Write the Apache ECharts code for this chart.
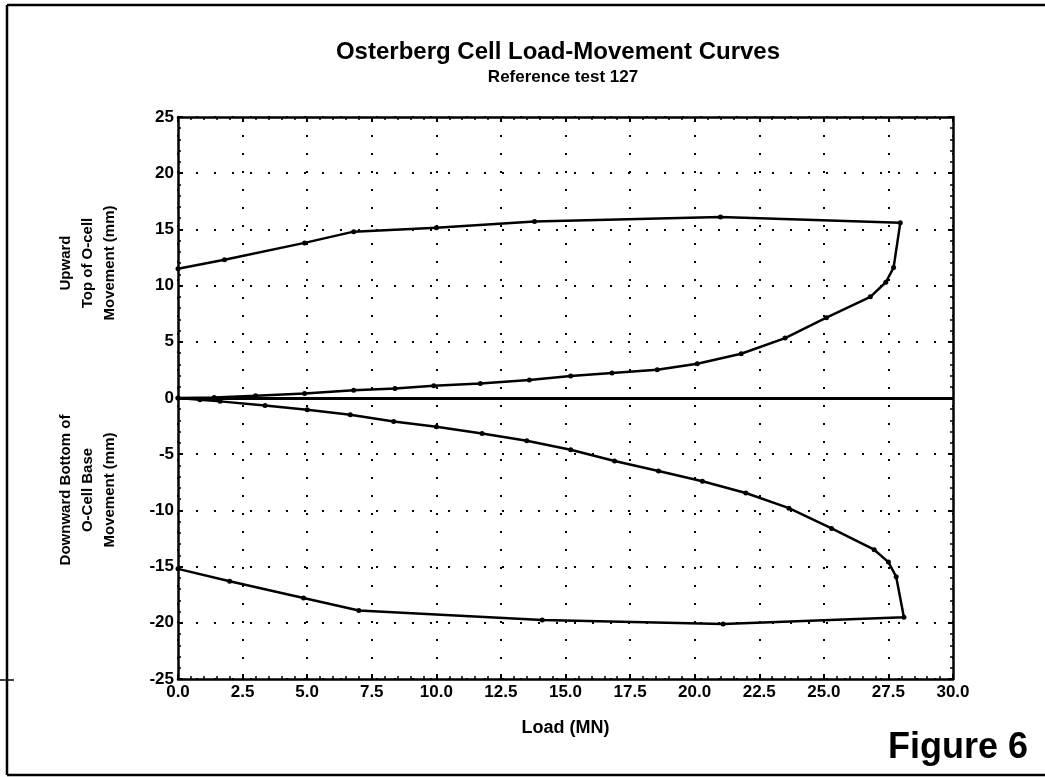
<!DOCTYPE html>
<html lang="en">
<head>
	<meta charset="UTF-8">
	<title>Osterberg Cell Load-Movement Curves</title>
	<script src="https://cdn.jsdelivr.net/npm/echarts@6/dist/echarts.min.js"></script>
	<style>
		html, body { margin: 0; padding: 0; background: #fff; }
		#main { width: 1045px; height: 777px; }
	</style>
</head>
<body>
	<div id="main"></div>
	<script type="text/javascript">
		// x = Load (MN), y = movement (mm)
		var upwardLoad = [0, 1.4, 3.0, 4.9, 6.8, 8.4, 9.9, 11.7, 13.6, 15.2, 16.8, 18.55, 20.1, 21.8, 23.5, 25.1, 26.8, 27.4, 27.7, 27.96,
			21.0, 13.8, 10.0, 6.8, 4.9, 1.8, 0];
		var upwardMove = [0, 0.05, 0.2, 0.4, 0.7, 0.85, 1.08, 1.3, 1.6, 1.95, 2.23, 2.52, 3.05, 3.94, 5.33, 7.15, 9.0, 10.3, 11.6, 15.6,
			16.1, 15.7, 15.15, 14.8, 13.8, 12.3, 11.5];

		var downwardLoad = [0, 0.85, 1.63, 3.37, 5.0, 6.67, 8.35, 10.0, 11.77, 13.5, 15.2, 16.9, 18.6, 20.3, 21.98, 23.65, 25.3, 26.95, 27.5, 27.8, 28.1,
			21.1, 14.1, 7.0, 4.86, 2.0, 0];
		var downwardMove = [0, -0.15, -0.3, -0.66, -1.05, -1.5, -2.1, -2.55, -3.15, -3.8, -4.6, -5.6, -6.5, -7.4, -8.45, -9.8, -11.6, -13.5, -14.6, -15.9, -19.5,
			-20.1, -19.75, -18.9, -17.8, -16.3, -15.2];

		var upLabel = ['Upward', 'Top of O-cell', 'Movement (mm)'];
		var downLabel = ['Downward Bottom of', 'O-Cell Base', 'Movement (mm)'];

		function pairs(xs, ys) {
			var out = [];
			for (var i = 0; i < xs.length; i++) out.push([xs[i], ys[i]]);
			return out;
		}

		var myChart = echarts.init(document.getElementById('main'));
		var FONT = '"Liberation Sans", Arial, sans-serif';

		var dotted = { show: true, lineStyle: { color: '#000', width: 2, type: [2, 16] } };
		var boxLine = { show: true, onZero: false, lineStyle: { color: '#000', width: 2.5 } };

		var option = {
			animation: false,
			backgroundColor: '#fff',
			grid: { left: 178, right: 92, top: 117, bottom: 98 },
			xAxis: [{
				type: 'value', min: 0, max: 30, interval: 2.5,
				position: 'bottom',
				axisLine: boxLine,
				axisTick: { show: true, inside: true, length: 5, lineStyle: { color: '#000', width: 2 } },
				minorTick: { show: true, splitNumber: 5, length: 3, lineStyle: { color: '#000', width: 1.5 } },
				axisLabel: {
					color: '#000', fontFamily: FONT, fontWeight: 'bold', fontSize: 17, margin: 5,
					formatter: function (v) { return v.toFixed(1); }
				},
				splitLine: dotted,
				name: 'Load (MN)', nameLocation: 'middle', nameGap: 40,
				nameTextStyle: { color: '#000', fontFamily: FONT, fontWeight: 'bold', fontSize: 18 }
			}, {
				type: 'value', min: 0, max: 30, interval: 2.5,
				position: 'top',
				axisLine: boxLine,
				axisTick: { show: true, inside: true, length: 5, lineStyle: { color: '#000', width: 2 } },
				minorTick: { show: true, splitNumber: 5, length: 3, lineStyle: { color: '#000', width: 1.5 } },
				axisLabel: { show: false },
				splitLine: { show: false }
			}],
			yAxis: [{
				type: 'value', min: -25, max: 25, interval: 5,
				position: 'left',
				axisLine: boxLine,
				axisTick: { show: true, inside: true, length: 5, lineStyle: { color: '#000', width: 2 } },
				minorTick: { show: true, splitNumber: 5, length: 3, lineStyle: { color: '#000', width: 1.5 } },
				axisLabel: { color: '#000', fontFamily: FONT, fontWeight: 'bold', fontSize: 17, margin: 4 },
				splitLine: dotted
			}, {
				type: 'value', min: -25, max: 25, interval: 5,
				position: 'right',
				axisLine: boxLine,
				axisTick: { show: true, inside: true, length: 5, lineStyle: { color: '#000', width: 2 } },
				minorTick: { show: true, splitNumber: 5, length: 3, lineStyle: { color: '#000', width: 1.5 } },
				axisLabel: { show: false },
				splitLine: { show: false }
			}],
			series: [{
				name: 'Upward',
				type: 'line',
				data: pairs(upwardLoad, upwardMove),
				symbol: 'circle', symbolSize: 5,
				itemStyle: { color: '#000' },
				lineStyle: { color: '#000', width: 2.5 },
				markLine: {
					silent: true, symbol: 'none', label: { show: false },
					lineStyle: { color: '#000', width: 3, type: 'solid' },
					data: [{ yAxis: 0 }]
				}
			}, {
				name: 'Downward',
				type: 'line',
				data: pairs(downwardLoad, downwardMove),
				symbol: 'circle', symbolSize: 5,
				itemStyle: { color: '#000' },
				lineStyle: { color: '#000', width: 2.5 }
			}],
			graphic: [
				// page frame
				{ type: 'line', shape: { x1: 7, y1: 5, x2: 1045, y2: 5 }, style: { stroke: '#000', lineWidth: 2.5 } },
				{ type: 'line', shape: { x1: 7, y1: 5, x2: 7, y2: 775 }, style: { stroke: '#000', lineWidth: 2.5 } },
				{ type: 'line', shape: { x1: 7, y1: 775, x2: 1045, y2: 775 }, style: { stroke: '#000', lineWidth: 2.5 } },
				{ type: 'line', shape: { x1: 0, y1: 680, x2: 14, y2: 680 }, style: { stroke: '#000', lineWidth: 1.5 } },
				{
					type: 'text', x: 558, y: 52,
					style: { text: 'Osterberg Cell Load-Movement Curves', fill: '#000', font: 'bold 24px ' + FONT, textAlign: 'center', textVerticalAlign: 'middle' }
				},
				{
					type: 'text', x: 563, y: 77,
					style: { text: 'Reference test 127', fill: '#000', font: 'bold 17px ' + FONT, textAlign: 'center', textVerticalAlign: 'middle' }
				},
				{
					type: 'text', x: 88, y: 263, rotation: Math.PI / 2,
					style: { text: upLabel.join('\n'), fill: '#000', font: 'bold 15px ' + FONT, lineHeight: 22, textAlign: 'center', textVerticalAlign: 'middle' }
				},
				{
					type: 'text', x: 88, y: 490, rotation: Math.PI / 2,
					style: { text: downLabel.join('\n'), fill: '#000', font: 'bold 15px ' + FONT, lineHeight: 22, textAlign: 'center', textVerticalAlign: 'middle' }
				},
				{
					type: 'text', x: 1028, y: 748,
					style: { text: 'Figure 6', fill: '#000', font: 'bold 36px ' + FONT, textAlign: 'right', textVerticalAlign: 'middle' }
				}
			]
		};

		myChart.setOption(option, true);
	</script>
</body>
</html>
